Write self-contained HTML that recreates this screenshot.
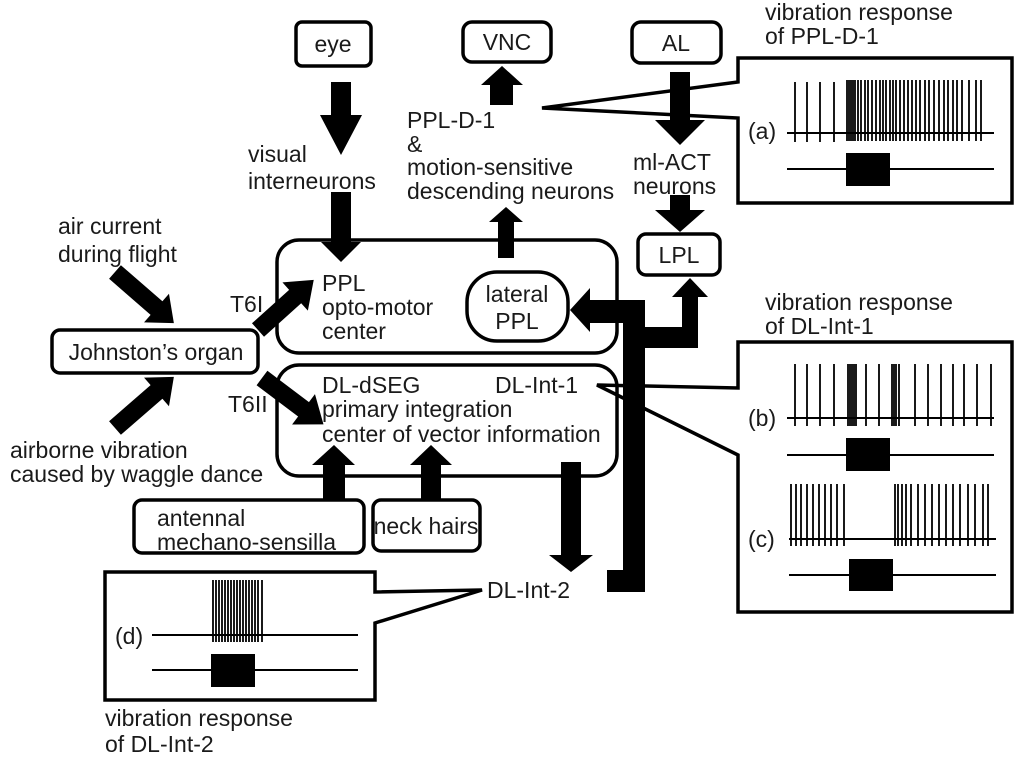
<!DOCTYPE html>
<html><head><meta charset="utf-8"><style>
html,body{margin:0;padding:0;background:#fff;}
svg{display:block;}
text{font-family:"Liberation Sans",sans-serif;font-size:23px;fill:#1a1a1a;}
</style></head><body>
<svg width="1024" height="764" viewBox="0 0 1024 764" xmlns="http://www.w3.org/2000/svg">
<g fill="none" stroke="#000" stroke-width="3.5">
<rect x="296" y="22" width="75" height="44" rx="6"/>
<rect x="463" y="22" width="88" height="40" rx="9"/>
<rect x="632" y="22" width="89" height="41" rx="9"/>
<rect x="277" y="240" width="340" height="113" rx="22"/>
<rect x="277" y="365" width="340" height="111" rx="22"/>
<rect x="467" y="272" width="101" height="69" rx="30"/>
<rect x="638" y="234" width="82" height="41" rx="8"/>
<rect x="52" y="330" width="206" height="43" rx="8"/>
<rect x="134" y="500" width="230" height="53" rx="8"/>
<rect x="373" y="500" width="107" height="51" rx="8"/>
<path d="M738 82 L738 58 L1012 58 L1012 203 L738 203 L738 118 L542 108 Z"/>
<path d="M738 388 L738 342 L1012 342 L1012 612 L738 612 L738 455 L597 385 Z"/>
<path d="M375 592 L375 572 L105 572 L105 700 L375 700 L375 623 L482 590 Z"/>
</g>
<g fill="#000">
<polygon points="331,82 351,82 351,115 362,115 341,155 320,115 331,115"/>
<polygon points="331,192 351,192 351,242 361,242 341,262 321,242 331,242"/>
<polygon points="502,66 523,85 513,85 513,105 490,105 490,85 481,85"/>
<polygon points="506,207 523,222 514,222 514,258 498,258 498,222 489,222"/>
<polygon points="670,72 690,72 690,120 705,120 680,145 655,120 670,120"/>
<polygon points="670,195 690,195 690,210 705,210 680,232 655,210 670,210"/>
<polygon points="323,500 345,500 345,465 355,465 334,445 312,465 323,465"/>
<polygon points="421,500 441,500 441,465 452,465 431,445 410,465 421,465"/>
<polygon points="561,462 581,462 581,555 593,555 571,572 549,555 561,555"/>
<polygon points="645,300 645,592 607,592 607,570 623,570 623,323 590,323 590,332 570,310 590,288 590,300"/>
<polygon points="645,327 682,327 682,297 672,297 690,278 708,297 698,297 698,348 645,348"/>
<g transform="translate(258,330) rotate(-42)"><polygon points="0,-9 50,-9 50,-19 75,0 50,19 50,9 0,9"/></g>
<g transform="translate(262,378) rotate(37)"><polygon points="0,-9 52,-9 52,-19 77,0 52,19 52,9 0,9"/></g>
<g transform="translate(115,272) rotate(41)"><polygon points="0,-9 55,-9 55,-19 78,0 55,19 55,9 0,9"/></g>
<g transform="translate(115,428) rotate(-41)"><polygon points="0,-9 55,-9 55,-19 78,0 55,19 55,9 0,9"/></g>
<rect x="846" y="153" width="44" height="33"/>
<rect x="846" y="438" width="44" height="33"/>
<rect x="849" y="559" width="44" height="32"/>
<rect x="211" y="654" width="44" height="33"/>
</g>
<g stroke="#000" stroke-width="2">
<line x1="787" y1="133" x2="994" y2="133"/>
<line x1="787" y1="169" x2="994" y2="169"/>
<line x1="787" y1="418" x2="994" y2="418"/>
<line x1="787" y1="455" x2="994" y2="455"/>
<line x1="789" y1="539" x2="996" y2="539"/>
<line x1="789" y1="575" x2="996" y2="575"/>
<line x1="152" y1="635" x2="358" y2="635"/>
<line x1="152" y1="670" x2="358" y2="670"/>
</g>
<g stroke="#000" stroke-width="1.8">
<path d="M795 82V142M807 82V142M820 82V142M834 82V142M847 80V141M849 80V141M851 80V141M853 80V141M855 80V141M858 80V141M861 80V141M865 80V141M868 80V141M872 80V141M876 80V141M880 80V141M883 80V141M886 80V141M890 80V141M893 80V141M896 80V141M900 80V141M904 80V141M908 80V141M912 80V141M916 80V141M920 80V141M925 80V141M929 80V141M934 80V141M939 80V141M944 80V141M948 80V141M953 80V141M957 80V141M962 80V141M969 80V141M976 80V141M981 80V141"/>
<path d="M795 364V426M807 364V426M820 364V426M834 364V426M848 364V426M850 364V426M852 364V426M854 364V426M856 364V426M866 364V426M879 364V426M892 364V426M894 364V426M896 364V426M899 364V426M915 364V426M928 364V426M941 364V426M953 364V426M964 364V426M977 364V426M991 364V426"/>
<path d="M791 484V546M796 484V546M801 484V546M807 484V546M813 484V546M819 484V546M825 484V546M831 484V546M837 484V546M844 484V546M895 484V546M898 484V546M902 484V546M906 484V546M911 484V546M918 484V546M925 484V546M932 484V546M939 484V546M946 484V546M953 484V546M960 484V546M968 484V546M975 484V546M983 484V546M988 484V546"/>
<path d="M213 580V642M216 580V642M219 580V642M222 580V642M225 580V642M228 580V642M231 580V642M234 580V642M237 580V642M240 580V642M243 580V642M246 580V642M249 580V642M252 580V642M255 580V642M258 580V642M262 580V642"/>
</g>
<text x="765" y="20">vibration response</text>
<text x="765" y="44">of PPL-D-1</text>
<text x="333" y="52" text-anchor="middle">eye</text>
<text x="507" y="50" text-anchor="middle">VNC</text>
<text x="676" y="51" text-anchor="middle">AL</text>
<text x="248" y="162">visual</text>
<text x="248" y="189">interneurons</text>
<text x="407" y="128">PPL-D-1</text>
<text x="407" y="152">&amp;</text>
<text x="407" y="175">motion-sensitive</text>
<text x="407" y="199">descending neurons</text>
<text x="633" y="170">ml-ACT</text>
<text x="633" y="194">neurons</text>
<text x="58" y="234">air current</text>
<text x="58" y="262">during flight</text>
<text x="230" y="312">T6I</text>
<text x="228" y="412">T6II</text>
<text x="156" y="360" text-anchor="middle">Johnston’s organ</text>
<text x="10" y="458">airborne vibration</text>
<text x="10" y="482">caused by waggle dance</text>
<text x="322" y="291">PPL</text>
<text x="322" y="315">opto-motor</text>
<text x="322" y="339">center</text>
<text x="517" y="302" text-anchor="middle">lateral</text>
<text x="517" y="329" text-anchor="middle">PPL</text>
<text x="322" y="393">DL-dSEG</text>
<text x="322" y="417">primary integration</text>
<text x="322" y="442">center of vector information</text>
<text x="495" y="393">DL-Int-1</text>
<text x="679" y="263" text-anchor="middle">LPL</text>
<text x="765" y="310">vibration response</text>
<text x="765" y="334">of DL-Int-1</text>
<text x="157" y="526">antennal</text>
<text x="157" y="550">mechano-sensilla</text>
<text x="426" y="534" text-anchor="middle">neck hairs</text>
<text x="487" y="598">DL-Int-2</text>
<text x="105" y="726">vibration response</text>
<text x="105" y="752">of DL-Int-2</text>
<text x="748" y="139">(a)</text>
<text x="748" y="426">(b)</text>
<text x="748" y="547">(c)</text>
<text x="115" y="644">(d)</text>
</svg>
</body></html>
